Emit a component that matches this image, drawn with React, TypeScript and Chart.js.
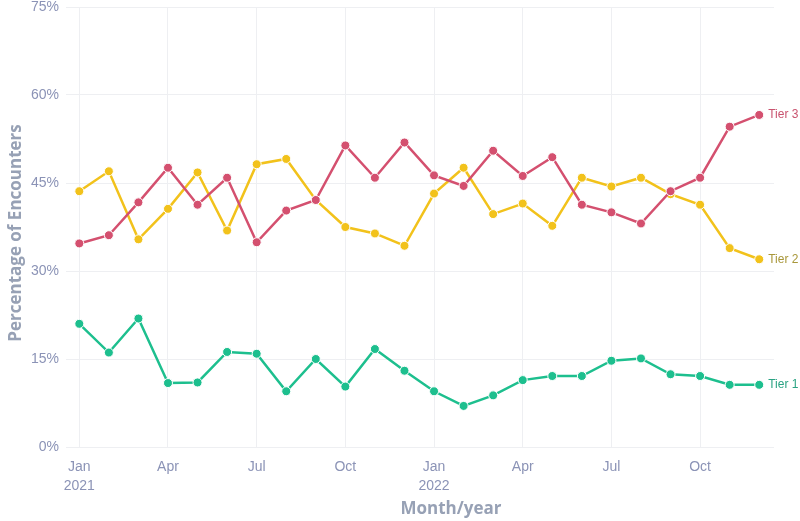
import React, { useEffect, useRef } from "react";
import { Chart, registerables } from "chart.js";

Chart.register(...registerables);

const months = ["Jan", "Feb", "Mar", "Apr", "May", "Jun", "Jul", "Aug", "Sep", "Oct", "Nov", "Dec"];
const years = ["2021", "2022"];
const tickMonths = [0, 3, 6, 9, 12, 15, 18, 21];
const yTicks = [0, 15, 30, 45, 60, 75];

const tier3 = [34.7, 36.1, 41.7, 47.6, 41.3, 45.9, 34.9, 40.3, 42.1, 51.4, 45.9, 51.9,
  46.3, 44.5, 50.5, 46.2, 49.4, 41.3, 40.0, 38.1, 43.6, 45.9, 54.6, 56.6];
const tier2 = [43.6, 47.0, 35.4, 40.6, 46.8, 36.9, 48.2, 49.1, 42.1, 37.5, 36.4, 34.3,
  43.2, 47.6, 39.7, 41.5, 37.7, 45.9, 44.4, 45.9, 43.1, 41.3, 33.9, 32.0];
const tier1 = [21.0, 16.1, 21.9, 10.9, 11.0, 16.2, 15.9, 9.5, 15.0, 10.3, 16.7, 13.0,
  9.5, 7.0, 8.8, 11.4, 12.1, 12.1, 14.7, 15.1, 12.4, 12.1, 10.6, 10.6];

const seriesNames = ["Tier 3", "Tier 2", "Tier 1"];
const lineColors = ["#d4506f", "#f2c21b", "#1dbf8e"];
const labelColors = ["#c9536f", "#a8973a", "#2aa383"];

const tickColor = "#8b93b6";
const titleColor = "#97a1b5";

export default function App() {
  const ref = useRef<HTMLCanvasElement | null>(null);

  useEffect(() => {
    document.body.style.margin = "0";
    const canvas = ref.current;
    if (!canvas) return;

    const allSeries = [tier3, tier2, tier1];
    const datasets = allSeries.map((vals, i) => ({
      label: seriesNames[i],
      data: vals.map((v, j) => ({ x: j, y: v })),
      borderColor: lineColors[i],
      backgroundColor: lineColors[i],
      pointBackgroundColor: lineColors[i],
      pointBorderColor: "#ffffff",
      pointBorderWidth: 1,
      pointRadius: 4.5,
      borderWidth: 2.5,
      tension: 0,
      clip: false as any,
    }));

    const endLabels = {
      id: "endLabels",
      afterDatasetsDraw(chart: any) {
        const ctx = chart.ctx;
        ctx.save();
        ctx.font = "12px 'Liberation Sans', Arial, sans-serif";
        ctx.textBaseline = "middle";
        ctx.textAlign = "left";
        chart.data.datasets.forEach((ds: any, i: number) => {
          const meta = chart.getDatasetMeta(i);
          const pt = meta.data[meta.data.length - 1];
          ctx.fillStyle = labelColors[i];
          ctx.fillText(ds.label, pt.x + 9, pt.y);
        });
        // axis titles
        ctx.fillStyle = titleColor;
        ctx.font = "bold 17px 'Open Sans', 'Noto Sans', sans-serif";
        ctx.textAlign = "center";
        ctx.fillText("Month/year", 451, 509);
        ctx.translate(16, 233);
        ctx.rotate(-Math.PI / 2);
        ctx.fillText("Percentage of Encounters", 0, 0);
        ctx.restore();
      },
    };

    const chart = new Chart(canvas, {
      type: "line",
      data: { datasets },
      plugins: [endLabels],
      options: {
        animation: false,
        responsive: false,
        maintainAspectRatio: false,
        layout: { padding: { left: 0, right: 26, top: 0, bottom: 0 } },
        plugins: { legend: { display: false }, tooltip: { enabled: false } },
        scales: {
          x: {
            type: "linear",
            min: -0.45,
            max: 23.5,
            afterBuildTicks(scale: any) {
              scale.ticks = tickMonths.map((v) => ({ value: v }));
            },
            afterFit(scale: any) {
              scale.height = 74;
              scale.paddingLeft = 0;
              scale.paddingRight = 0;
            },
            grid: { color: "#eeeff2", drawTicks: false },
            border: { display: false },
            ticks: {
              padding: 11,
              color: tickColor,
              font: { family: "'Liberation Sans', Arial, sans-serif", size: 14, lineHeight: 1.35 },
              maxRotation: 0,
              autoSkip: false,
              callback(value: any) {
                const v = Number(value);
                const m = months[v % 12];
                if (v % 12 === 0) return [m, years[Math.floor(v / 12)]];
                return m;
              },
            },
          },
          y: {
            min: 0,
            max: 75,
            afterBuildTicks(scale: any) {
              scale.ticks = yTicks.map((v) => ({ value: v }));
            },
            afterFit(scale: any) {
              scale.width = 66;
              scale.paddingTop = 7;
              scale.paddingBottom = 0;
            },
            grid: { color: "#eeeff2", drawTicks: false },
            border: { display: false },
            ticks: {
              padding: 7,
              color: tickColor,
              font: { family: "'Liberation Sans', Arial, sans-serif", size: 14 },
              callback(value: any) {
                return value + "%";
              },
            },
          },
        },
      },
    });
    return () => chart.destroy();
  }, []);

  return (
    <div style={{ width: 800, height: 521, background: "#ffffff" }}>
      <canvas ref={ref} width={800} height={521} style={{ display: "block", width: 800, height: 521 }} />
    </div>
  );
}
